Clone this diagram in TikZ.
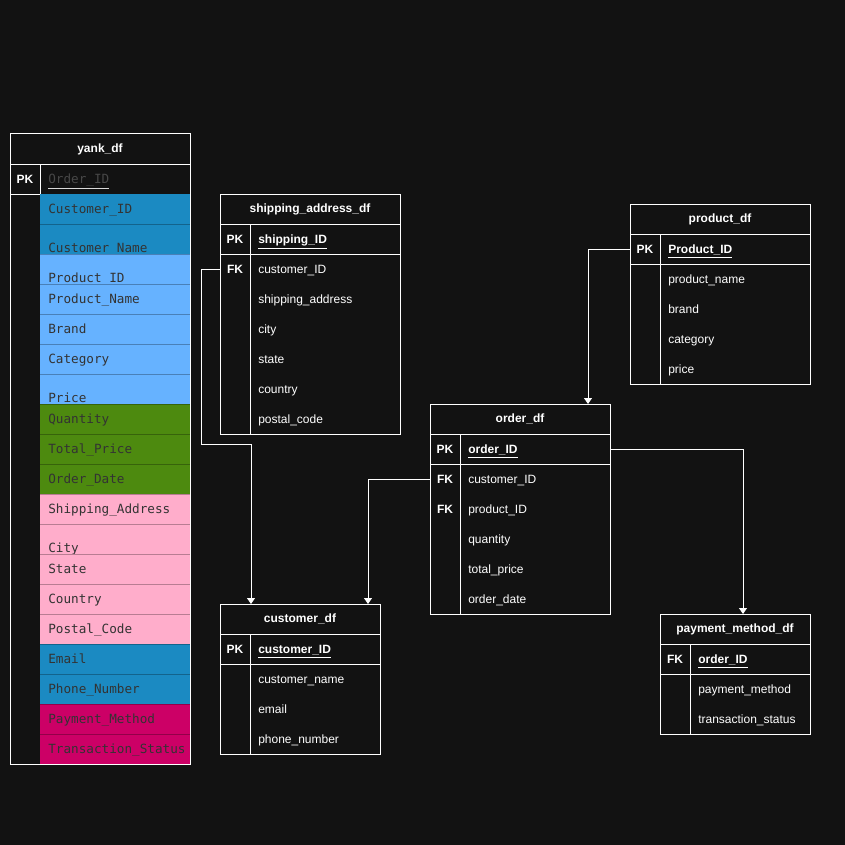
\documentclass[tikz,border=0pt]{standalone}
\usepackage{fontspec}
\setmainfont{Liberation Sans}
\setmonofont{DejaVu Sans Mono}
\usepackage{xcolor}
\usetikzlibrary{arrows.meta}

\definecolor{bg}{HTML}{121212}
\definecolor{midblue}{HTML}{1B8AC2}
\definecolor{litblue}{HTML}{66B2FF}
\definecolor{olive}{HTML}{4D8A0F}
\definecolor{rose}{HTML}{FFADCB}
\definecolor{magen}{HTML}{CC0066}
\definecolor{celltxt}{HTML}{333333}
\definecolor{dimtxt}{HTML}{474747}

\begin{document}
\begin{tikzpicture}[x=0.75pt, y=-0.75pt,
    line/.style={white, line width=0.75pt},
    tbl/.style={draw=white, fill=bg, line width=0.75pt, outer sep=0pt, inner sep=0pt},
    hdr/.style={text=white, font=\bfseries\fontsize{9}{10}\selectfont, inner sep=0pt},
    key/.style={text=white, font=\bfseries\fontsize{9}{10}\selectfont, inner sep=0pt},
    fld/.style={text=white, font=\fontsize{9}{10}\selectfont, anchor=base west, inner sep=0pt},
    pkf/.style={fld, font=\bfseries\fontsize{9}{10}\selectfont},
    mono/.style={text=celltxt, font=\ttfamily\fontsize{9.5}{11}\selectfont, anchor=base west, inner sep=0pt},
    link/.style={white, line width=0.75pt, -{Triangle[width=6pt, length=4.5pt]}}]
    \fill[bg] (0,0) rectangle (845,845);

    % yank_df
    \draw[line] (10,134) rectangle (190,764);
    \draw[line] (10,164) -- (190,164) (10,194) -- (190,194) (40,164) -- (40,194);
    \node[hdr] (yank) at (100,149) {yank\_df};
    \node[key] (yank-k) at (25,179) {PK};
    \node[mono, text=dimtxt] (yank-pk) at (48,183.5) {{\color{white!85!black}\underline{\textcolor{dimtxt}{Order\_ID}}}};
    \foreach \lbl/\col/\dy [count=\i from 0] in {
        Customer\_ID/midblue/4.5, Customer\_Name/midblue/13.5,
        Product\_ID/litblue/13.5, Product\_Name/litblue/4.5, Brand/litblue/4.5,
        Category/litblue/4.5, Price/litblue/13.5,
        Quantity/olive/4.5, Total\_Price/olive/4.5, Order\_Date/olive/4.5,
        Shipping\_Address/rose/4.5, City/rose/13.5, State/rose/4.5,
        Country/rose/4.5, Postal\_Code/rose/4.5,
        Email/midblue/4.5, Phone\_Number/midblue/4.5,
        Payment\_Method/magen/4.5, Transaction\_Status/magen/4.5} {
        \fill[\col] (40,{194+30*\i}) rectangle (190,{224+30*\i});
        \ifnum\i>0
            \draw[\col!72!black, line width=0.75pt] (40,{194+30*\i}) -- (190,{194+30*\i});
        \fi
        \node[mono] (yank-\i) at (48,{209+30*\i+\dy}) {\lbl};
    }
    \draw[white, opacity=0.45, line width=0.75pt] (190,194) -- (190,764) -- (40,764);

    % shipping_address_df
    \node[tbl, minimum width=135pt, minimum height=180pt] (ship) at (310,314) {};
    \draw[line] (220,224) -- (400,224) (220,254) -- (400,254) (250,224) -- (250,434);
    \node[hdr] (ship-h) at (310,209) {shipping\_address\_df};
    \node[key] (ship-k) at (235,239) {PK};
    \node[pkf] (ship-pk) at (258,243.5) {\underline{shipping\_ID}};
    \node[key] (ship-fk) at (235,269) {FK};
    \foreach \f [count=\i] in {customer\_ID, shipping\_address, city, state, country, postal\_code}
        \node[fld] (ship-\i) at (258,{243.5+30*\i}) {\f};

    % product_df
    \node[tbl, minimum width=135pt, minimum height=135pt] (prod) at (720,294) {};
    \draw[line] (630,234) -- (810,234) (630,264) -- (810,264) (660,234) -- (660,384);
    \node[hdr] (prod-h) at (720,219) {product\_df};
    \node[key] (prod-k) at (645,249) {PK};
    \node[pkf] (prod-pk) at (668,253.5) {\underline{Product\_ID}};
    \foreach \f [count=\i] in {product\_name, brand, category, price}
        \node[fld] (prod-\i) at (668,{253.5+30*\i}) {\f};

    % order_df
    \node[tbl, minimum width=135pt, minimum height=157.5pt] (ord) at (520,509) {};
    \draw[line] (430,434) -- (610,434) (430,464) -- (610,464) (460,434) -- (460,614);
    \node[hdr] (ord-h) at (520,419) {order\_df};
    \node[key] (ord-k) at (445,449) {PK};
    \node[pkf] (ord-pk) at (468,453.5) {\underline{order\_ID}};
    \node[key] (ord-fk1) at (445,479) {FK};
    \node[key] (ord-fk2) at (445,509) {FK};
    \foreach \f [count=\i] in {customer\_ID, product\_ID, quantity, total\_price, order\_date}
        \node[fld] (ord-\i) at (468,{453.5+30*\i}) {\f};

    % customer_df
    \node[tbl, minimum width=120pt, minimum height=112.5pt] (cust) at (300,679) {};
    \draw[line] (220,634) -- (380,634) (220,664) -- (380,664) (250,634) -- (250,754);
    \node[hdr] (cust-h) at (300,619) {customer\_df};
    \node[key] (cust-k) at (235,649) {PK};
    \node[pkf] (cust-pk) at (258,653.5) {\underline{customer\_ID}};
    \foreach \f [count=\i] in {customer\_name, email, phone\_number}
        \node[fld] (cust-\i) at (258,{653.5+30*\i}) {\f};

    % payment_method_df
    \node[tbl, minimum width=112.5pt, minimum height=90pt] (pay) at (735,674) {};
    \draw[line] (660,644) -- (810,644) (660,674) -- (810,674) (690,644) -- (690,734);
    \node[hdr] (pay-h) at (735,629) {payment\_method\_df};
    \node[key] (pay-k) at (675,659) {FK};
    \node[pkf] (pay-pk) at (698,663.5) {\underline{order\_ID}};
    \foreach \f [count=\i] in {payment\_method, transaction\_status}
        \node[fld] (pay-\i) at (698,{663.5+30*\i}) {\f};

    % relations
    \coordinate (b1) at (201,444);
    \coordinate (b2) at (251,444);
    \coordinate (b3) at (588,0);
    \coordinate (b4) at (368,0);
    \coordinate (b5) at (743,0);
    \draw[link] (ship-fk -| ship.west) -| (b1) -- (b2) -- (b2 |- cust.north);
    \draw[link] (prod-k -| prod.west) -| (b3 |- ord.north);
    \draw[link] (ord-fk1 -| ord.west) -| (b4 |- cust.north);
    \draw[link] (ord-k -| ord.east) -| (b5 |- pay.north);
\end{tikzpicture}
\end{document}
